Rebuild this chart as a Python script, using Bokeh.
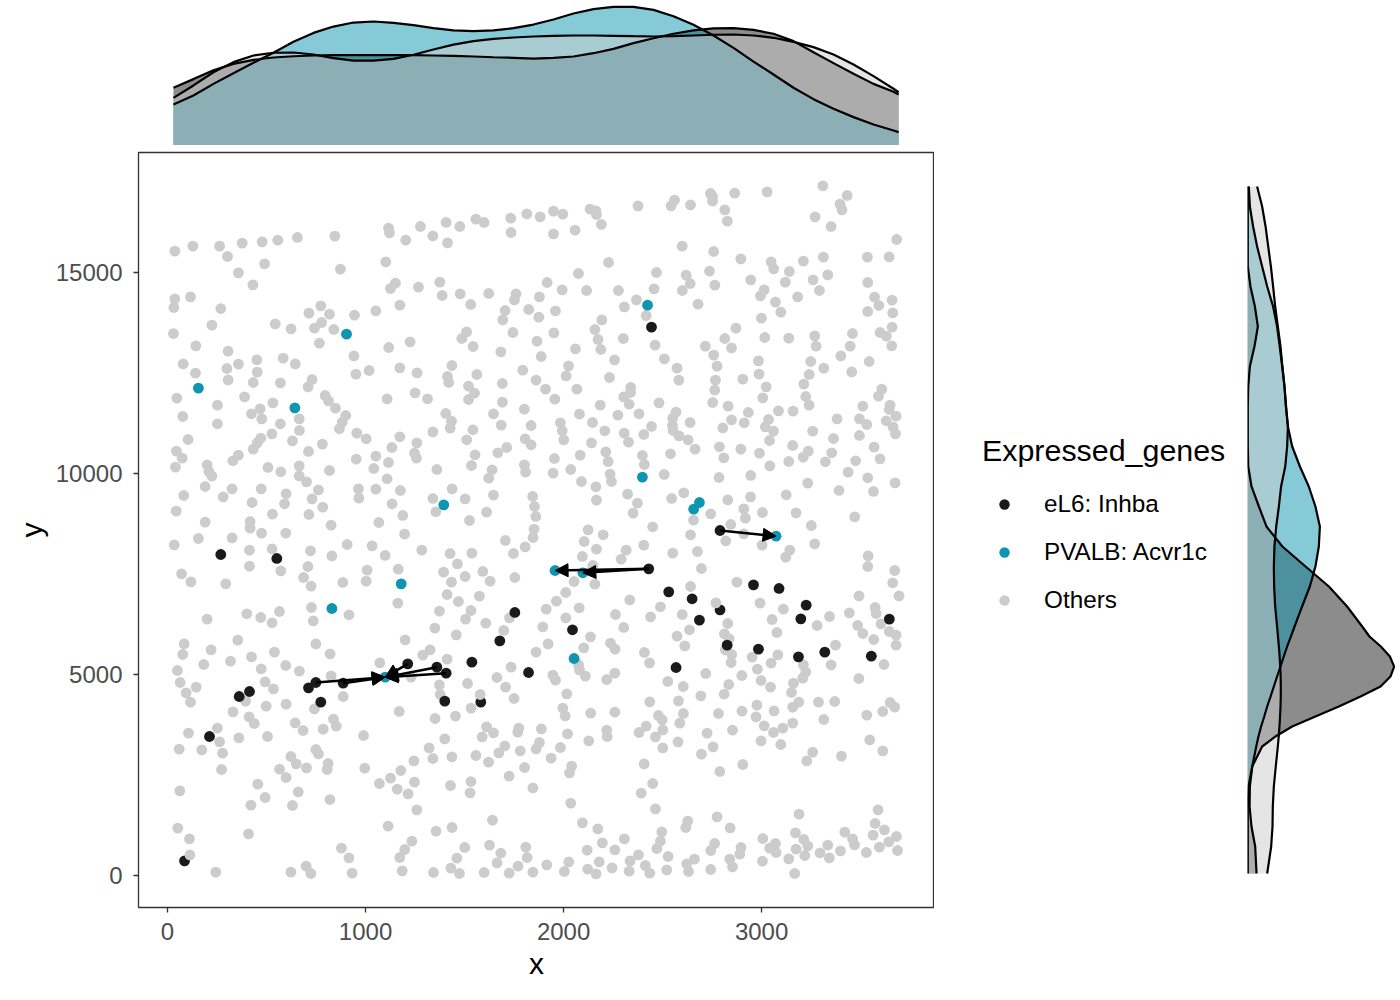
from bokeh.plotting import figure
from bokeh.layouts import column, row
from bokeh.embed import file_html
from bokeh.resources import INLINE
from bokeh.models import (Arrow, ColumnDataSource, FixedTicker, Legend, LegendItem, NormalHead, Range1d)

x_ticks = [0, 1000, 2000, 3000]
y_ticks = [0, 5000, 10000, 15000]
legend_labels = ["eL6: Inhba", "PVALB: Acvr1c", "Others"]

el6_under = [(86,365),(1582,4312),(2790,6609)]
el6_over = [(269,7985),(552,7886),(1754,6543),(1678,5838),(2444,13640),(712,4668),(749,4801),(887,4784),
(774,4312),(362,4453),(414,4577),(212,3458),(1213,5265),(1360,5182),(1407,5033),(1537,5307),(1400,4337),
(1823,5050),(2790,8582),(2430,7629),(2959,7231),(3088,7140),(2531,7057),(2649,6883),(3225,6725),(2686,6352),
(3198,6385),(3645,6377),(2045,6112),(2826,5730),(2984,5630),(3186,5439),(3319,5556),(3554,5456),(2568,5174)]
pvalb = [(904,13466),(156,12123),(643,11633),(2424,14187),(1395,9221),(1180,7256),(830,6642),(2398,9909),
(2686,9279),(2657,9113),(3073,8442),(1957,7587),(2097,7530),(2053,5398),(1099,4934)]

others = [
(37,15530),(128,15655),(263,15655),(377,15730),(478,15763),(557,15804),(656,15871),(845,15904),(303,15398),(490,15215),
(358,14992),(431,14693),(873,15083),(1116,16103),(1121,15987),(1277,16144),(1203,15804),(1340,15912),(1407,16244),(1476,16144),
(1414,15738),(1557,16327),(1599,16244),(1733,16351),(1814,16459),(1735,15995),(1102,15265),(1151,14735),(1126,14602),(1267,14635),
(1375,14759),(1387,14428),(1478,14469),(1622,14477),(1531,14204),(1760,14469),(1752,14320),(37,14345),(116,14395),(32,14129),
(269,14104),(774,14171),(714,13988),(818,13963),(944,13938),(1052,14046),(1173,14187),(1705,14055),(1824,14079),(1693,13822),
(224,13690),(544,13723),(624,13599),(742,13615),(778,13756),(840,13582),(30,13482),(1510,13524),(1486,13358),(1744,13507),
(143,13176),(767,13242),(1117,13134),(1225,13275),(1543,13159),(1683,13026),(306,13043),(451,12827),(584,12869),(941,12927),
(79,12728),(358,12720),(300,12612),(645,12728),(1173,12628),(1436,12686),(141,12496),(453,12521),(951,12471),(1018,12562),
(1260,12504),(1414,12413),(1562,12463),(1794,12570),(306,12330),(433,12264),(570,12255),(730,12338),(1420,12264),(1691,12239),
(710,12156),(1520,12172),(47,11874),(389,11907),(796,11940),(1250,12007),(1550,11998),(1109,11857),(1313,11857),(1520,11841),
(1691,11774),(252,11700),(532,11758),(813,11807),
(77,11418),(468,11609),(424,11485),(476,11360),(665,11360),(900,11443),(882,11277),(868,11112),(570,11236),(252,11236),
(848,11626),(1405,11493),(1646,11485),(1802,11601),(1434,11302),(1427,11128),(1542,11087),(1685,11203),(1836,11194),(666,11070),
(527,10987),(956,11004),(1003,10863),(1173,10913),(1340,11037),(104,10846),(471,10879),(453,10763),(433,10606),(631,10813),
(782,10730),(712,10548),(1133,10647),(1259,10763),(1511,10838),(1806,10863),(1836,10714),(1713,10647),(1668,10515),(45,10556),
(74,10382),(358,10456),(330,10316),(953,10357),(1052,10432),(1116,10274),(1247,10506),(1257,10382),(1553,10465),(40,10158),
(200,10216),(507,10150),(572,10042),(665,10191),(818,10075),(1042,10125),(1360,10100),(1535,10199),(1639,10092),(1802,10216),
(1808,10034),(209,10050),(224,9934),(665,9942),(702,9793),(1109,9868),(1622,9884),(190,9677),(326,9619),(473,9619),
(762,9594),(964,9619),(1052,9611),(1176,9578),(1437,9619),(82,9453),(281,9420),(599,9495),(730,9370),(966,9387),
(1340,9379),(1503,9370),(1646,9461),(1844,9428),(427,9279),(591,9246),(784,9163),(1134,9246),(1853,9180),(44,9063),
(530,8989),(714,8981),(1188,8956),(1355,9047),(1611,9039),(1860,8931),(190,8790),(417,8806),(826,8715),(1067,8781),
(1525,8831),(417,8640),(475,8516),(597,8516),(1197,8491),(1851,8616),(1846,8408),(156,8383),(326,8400),(34,8226),
(907,8234),(1033,8201),(1706,8334),(1806,8176),(414,8093),(528,8126),(722,8077),(1284,8093),(830,7952),(1099,7961),
(1427,8010),(1537,8019),(1747,8010),(414,7695),(709,7687),(1464,7753),(1008,7596),(1165,7621),(572,7579),(1394,7546),
(1592,7563),(71,7504),(118,7305),(687,7413),(1503,7438),(1754,7413),(294,7256),(725,7198),(885,7289),(1003,7322),
(1434,7297),(1629,7322),(1412,6990),(1469,6816),(1575,6949),(1163,6775),(727,6667),(1532,6592),(1373,6576),(565,6567),
(400,6510),(471,6418),(916,6485),(200,6377),(528,6286),(736,6335),(1505,6377),(1727,6410),(1607,6277),(1350,6153),
(1698,6095),(1458,5987),(355,5854),(84,5763),(749,5763),(1200,5863),(220,5614),(1326,5614),
(77,5497),(540,5556),(821,5514),(1289,5481),(424,5439),(318,5332),(183,5249),(50,5099),(473,5141),(597,5224),
(666,5083),(1072,5290),(1412,5381),(1735,5182),(826,4967),(1663,4925),(64,4801),(493,4817),(145,4685),(535,4643),
(1515,4776),(1707,4685),(1230,4934),(1373,4743),(94,4544),(887,4453),(1377,4502),(1579,4502),(1750,4403),(116,4312),
(394,4337),(498,4212),(599,4262),(742,4146),(1170,4080),(1533,4163),(331,4071),(412,3947),(1351,3905),(1454,3963),
(438,3781),(645,3798),(838,3889),(852,3715),(1611,3698),(252,3665),(685,3607),(786,3640),(1774,3665),(1769,3565),
(1646,3549),(106,3541),(360,3425),(505,3458),(990,3483),(1400,3400),(1589,3449),(263,3325),(59,3143),(173,3126),
(749,3134),(1321,3176),(1703,3225),(1781,3101),(278,3043),(762,3027),(623,2960),(1340,2910),(1436,2952),(1557,2985),
(1673,3051),(1244,2852),(1621,2819),(650,2778),(811,2786),(1178,2612),(566,2645),(273,2637),(702,2678),(806,2637),
(996,2670),(1803,2686),(599,2438),(1126,2421),(1725,2471),(456,2272),(1070,2288),(1247,2322),(1532,2338),(1429,2239),
(1160,2148),(1845,2181),(62,2106),(660,2081),(1215,2031),(1528,2056),(493,1940),(820,1890),(421,1749),(631,1741),
(1259,1633),(1641,1376),(52,1177),(1114,1227),(1437,1194),(1356,1103),(409,1036),(111,912),(1234,854),(1626,755),
(1501,697),(1198,647),(878,680),(1809,705),(1683,555),(113,514),(916,439),(1173,448),(1461,431),(1816,448),
(1664,315),(700,232),(1770,232),(1431,182),(244,83),(623,83),(724,50),(932,58),(1185,116),(1343,75),
(1474,50),(1599,75),(1725,58),(1845,83),
(1882,16385),(1949,16526),(1996,16451),(2134,16575),(2163,16534),(2166,16443),(2191,16194),(1949,15962),(2058,16053),(2376,16658),
(2560,16799),(2543,16658),(2641,16683),(2742,16965),(2752,16890),(2752,16774),(2864,16973),(2814,16559),(2827,16277),(3028,17007),
(3309,17156),(3432,16915),(3396,16700),(3406,16559),(3270,16385),(3351,16144),(3682,15821),(2599,15655),(2758,15522),(2227,15249),
(2895,15340),(3048,15265),(3061,15091),(3211,15282),(3312,15381),(3534,15381),(3644,15390),(2075,14975),(2469,15000),(2619,14934),
(2737,15033),(3140,15025),(3334,14942),(2945,14817),(3260,14817),(3120,14759),(3536,14751),(1917,14751),(2639,14726),(1993,14569),
(2116,14552),(2277,14552),(2457,14594),(2600,14552),(2764,14685),(3013,14569),(3292,14552),(1878,14395),(2994,14419),(3182,14395),
(2368,14320),(3070,14262),(3570,14386),(3659,14312),(2307,14146),(2679,14212),(3592,14179),(1959,14046),(3097,14013),(3536,14030),
(3662,13997),(1875,13889),(2417,13930),(2193,13822),(2999,13864),(2870,13615),(3659,13640),(2158,13582),(1951,13499),(3598,13507),
(3459,13483),(2174,13333),(1866,13292),(2302,13358),(2814,13358),(3016,13383),(3137,13366),(3268,13424),(3630,13416),(2060,13101),
(2188,13084),(2462,13192),(2716,13167),(2848,13126),(3275,13167),(3447,13167),(3657,13176),(1887,12910),(2758,12943),(2257,12827),
(2509,12852),(2984,12803),(3248,12786),(3400,12927),(3543,12786),(2025,12678),(2775,12670),(2573,12620),(3314,12620),(2013,12429),
(2232,12388),(2987,12471),(3240,12463),(3455,12529),(1861,12322),(2582,12322),(2767,12322),(2905,12346),(3213,12222),(1909,12098),
(2067,12098),(2339,12139),(2338,12015),(2763,12073),(3023,12156),(3607,12098),(1956,11849),(2304,11907),(3006,11882),(3223,11915),
(3590,11923),(2185,11700),(2331,11724),(2482,11758),(2753,11766),(3240,11700),(3649,11700),
(2831,11675),(3511,11675),(2080,11476),(2274,11452),(2381,11485),(2568,11526),(2933,11518),(3085,11559),(3159,11551),(3645,11592),
(3679,11427),(1984,11261),(2146,11269),(2551,11377),(2639,11269),(2848,11335),(2912,11261),(3035,11344),(3381,11360),(3494,11360),
(3531,11219),(3629,11311),(2444,11170),(1993,11062),(2208,11062),(2550,11194),(2553,11070),(2804,11136),(3019,11161),(3060,11054),
(3258,11054),(3664,11153),(3676,10987),(2306,11004),(2405,10971),(2583,10937),(3494,10946),(2001,10838),(2629,10838),(3040,10821),
(3363,10871),(2141,10763),(2328,10780),(2787,10664),(2895,10606),(3157,10697),(3568,10655),(2664,10606),(2213,10539),(2540,10490),
(2084,10456),(2398,10448),(2989,10506),(3236,10556),(3210,10407),(3354,10515),(1954,10374),(2225,10299),(2809,10390),(3137,10299),
(3598,10365),(2408,10224),(3041,10191),(3322,10291),(3475,10316),(2036,10100),(1947,10009),(2235,9984),(2508,9976),(2945,9951),
(3437,10034),(2785,9901),(3536,9893),(2090,9801),(2242,9801),(3233,9760),(3674,9768),(2163,9669),(3391,9578),(3565,9553),
(2607,9519),(2323,9486),(3124,9470),(2166,9337),(2546,9379),(2829,9345),(2944,9420),(2373,9262),(2351,9014),(2910,9121),
(2743,8997),(3004,9030),(3174,9022),(2918,8889),(3470,8922),(2656,8840),(2844,8732),(2450,8674),(3251,8707),(2124,8599),
(2200,8475),(2641,8475),(2910,8500),(2104,8309),(2819,8325),(2405,8218),(3002,8218),(3268,8251),(2166,8118),(2316,8093),
(2676,8060),(3142,8093),(2551,8019),(3538,7952),(2095,7936),(2291,7869),(3122,7919),(2148,7712),(3536,7687),(2696,7637),
(3672,7587),(2053,7314),(2158,7247),(2875,7297),(3662,7281),(2641,7189),(2011,7040),(3492,6957),(3694,6957),(1964,6825),
(2334,6858),(2992,6775),(2769,6783),(1912,6625),(2079,6659),(2489,6684),(3110,6625),(3573,6667),(3578,6518),(2262,6493),
(2599,6493),(3443,6534),(3343,6443),(2011,6410),(2439,6435),(3053,6368),(3603,6261),(2829,6269),(3280,6219),(3485,6219),
(1895,6186),(2304,6170),(2636,6112),(3077,6045),(3645,6070),(2812,6012),(2136,5937),(3511,6020),(2573,5954),(3679,5979),
(2836,5888),(3566,5871),(2237,5780),(1922,5763),(2612,5713),(3373,5730),(3679,5730),(2102,5664),(2260,5630),(2817,5614),
(1861,5556),(2408,5547),(2849,5498),(3082,5489),(2952,5431),(2846,5298),(2434,5290),(2075,5249),(3048,5282),(3211,5240),
(3351,5240),(3618,5249),(2080,5116),(2979,5133),(3223,5058),(2259,5033),(2718,5025),(1946,4983),(2110,4959),(2900,4975),
(3208,4909),(2218,4876),(1959,4859),(2997,4851),(3491,4900),(2526,4826),(2834,4751),(3161,4784),(2604,4701),(3045,4685),
(3151,4552),(2016,4519),(2811,4511),(2693,4469),(2435,4320),(2580,4345),(3188,4312),(3287,4312),(3369,4328),(2976,4237),
(3649,4303),(1996,4162),(3157,4187),(3672,4187),(2137,4038),(2259,4063),(2479,3980),(2605,4030),(2782,4030),(2901,4088),
(3063,4096),(3612,4080),(2008,3972),(2972,3947),(3531,3988),(2498,3872),(3314,3881),(2587,3789),(3157,3789),(3013,3723),
(2417,3715),(3107,3665),(1888,3648),(2218,3615),(2501,3623),(2853,3615),(2381,3557),(2020,3524),(2725,3541),(3060,3557),
(2220,3458),(2464,3449),(2127,3350),(2578,3325),(2997,3350),(3546,3375),(1878,3308),(3097,3259),(1984,3184),(2501,3176),
(2755,3201),(1861,3151),(3612,3101),(3258,3068),(2696,3018),(3403,2968),(1937,2919),(3228,2852),(2407,2778),(2905,2761),
(2041,2720),(2030,2554),(2789,2587),(2450,2288),(2392,2048),(2036,1799),(2464,1658),(3588,1633),(3189,1526),(2775,1459),
(2627,1352),(2095,1310),(3573,1293),(2173,1161),(2617,1194),(2841,1186),(3620,1136),(2496,1086),(3171,1061),(3420,1078),
(3563,1003),(2307,912),(3006,920),(3459,912),(3681,970),(2196,813),(2489,854),(2763,796),(3070,796),(3213,895),
(3469,763),(3642,837),(3233,738),(3334,755),(2119,630),(2259,638),(2471,672),(2743,622),(2896,697),(3041,680),
(3174,655),(3595,705),(3398,613),(3686,622),(2378,514),(2528,473),(2890,531),(3073,572),(3218,498),(3295,564),
(3529,572),(2661,406),(2839,406),(3137,415),(3342,439),(2026,340),(2180,340),(2336,365),(2622,290),(3004,357),
(1915,265),(2413,249),(2853,216),(2122,157),(2245,191),(2521,141),(2743,149),(2331,108),(2631,99),(2004,99),
(2164,41),(2435,58),(3167,50),
]

arrow_x0 = [2790, 2430, 2430, 749, 887, 1213, 1360, 1407]
arrow_y0 = [8582, 7629, 7629, 4801, 4784, 5265, 5182, 5033]
arrow_x1 = [3073, 2097, 1957, 1099, 1099, 1099, 1099, 1099]
arrow_y1 = [8442, 7530, 7587, 4934, 4934, 4934, 4934, 4934]

# marginal density along x (relative height)
dens_x = [30,131,232,333,434,535,636,737,838,939,1040,1141,1242,1343,1444,1545,1646,1747,1848,
          1949,2050,2151,2252,2353,2454,2555,2656,2757,2858,2959,3060,3161,3262,3363,3464,3565,3666,3692]
dens_x_pvalb = [27.8,34.0,42.1,49.5,56.7,63.7,71.3,77.5,81.9,84.7,85.4,84.5,82.9,80.8,79.2,78.7,79.2,80.8,83.3,
                86.8,91.0,94.0,95.6,95.6,93.5,89.1,83.1,75.7,67.1,57.6,48.6,39.4,31.5,24.8,19.0,13.9,9.7,8.6]
dens_x_others = [32.4,41.0,50.2,57.2,61.8,63.7,63.9,62.5,60.0,58.3,58.3,59.5,62.3,66.0,69.4,71.8,73.4,74.3,75.0,
                 75.5,75.7,75.7,75.5,75.2,75.0,75.2,75.7,76.2,76.4,75.7,74.1,71.3,67.6,62.5,55.6,47.5,38.7,36.3]
dens_x_el6 = [39.4,45.4,51.6,56.0,58.8,60.4,61.3,61.8,62.0,62.0,62.0,62.0,62.0,61.8,61.6,61.1,60.6,60.2,59.7,
              60.2,61.1,63.4,66.4,70.4,73.8,76.9,79.2,80.6,80.8,79.6,76.9,71.8,64.1,56.5,49.1,42.1,36.6,34.7]

# marginal density along y (relative height)
dens_y = [17140,16642,16145,15647,15150,14652,14154,13657,13159,12662,12164,11667,11169,10672,10174,9677,9179,8682,8184,7687,7189,6692,
          6194,5945,5697,5448,5199,4950,4702,4453,4204,3955,3707,3458,3209,2711,2214,1716,1219,721,50]
dens_y_el6 = [.2,.2,.2,.2,.2,2.0,5.0,7.0,4.7,1.6,.5,.2,.2,.2,.5,2.7,7.7,12.8,23.6,39.2,55.0,67.3,
              77.5,82.4,90.1,96.2,99.1,96.6,89.9,76.4,61.7,45.9,30.2,18.9,9.9,3.2,1.6,1.4,2.7,5.2,6.1]
dens_y_pvalb = [.9,1.6,3.8,6.5,9.9,13.3,17.3,20.0,21.8,23.4,25.0,25.9,27.3,30.2,35.4,41.4,45.9,48.9,48.2,45.9,42.1,36.9,
                31.8,29.3,26.8,24.5,22.3,20.0,17.8,15.6,13.3,11.3,9.2,7.4,5.9,3.2,.7,.2,.2,.2,.2]
dens_y_others = [6.5,9.9,12.2,14.0,15.8,17.3,18.7,20.5,22.3,23.6,25.0,26.1,27.3,26.8,25.5,22.7,21.2,19.4,18.2,17.8,18.0,18.7,
                 20.0,20.6,21.2,21.7,22.1,22.4,22.5,22.5,22.3,22.0,21.6,21.1,20.5,19.1,17.8,17.1,16.9,16.0,13.3]

BLACK = "#1A1A1A"
BLUE = "#0E95B2"
GREY = "#CCCCCC"
FONT = "Liberation Sans"

xr = (-146.5, 3873)
yr = (-796, 17985)


def xs(pts):
    return [a for a, _ in pts]


def ys(pts):
    return [b for _, b in pts]


main = figure(width=138 + 796, height=7 + 755 + 70, frame_width=796, frame_height=755,
              x_range=Range1d(*xr), y_range=Range1d(*yr), output_backend="svg", toolbar_location=None,
              min_border_left=138, min_border_right=0, min_border_top=7, min_border_bottom=70)
main.grid.visible = False
main.outline_line_color = "#333333"
main.outline_line_width = 1.3
main.xaxis.ticker = FixedTicker(ticks=x_ticks)
main.yaxis.ticker = FixedTicker(ticks=y_ticks)
main.xaxis.axis_label = "x"
main.yaxis.axis_label = "y"
for ax in (main.xaxis[0], main.yaxis[0]):
    ax.axis_line_color = None
    ax.major_tick_line_color = "#333333"
    ax.major_tick_line_width = 1.3
    ax.major_tick_in = 0
    ax.major_tick_out = 5
    ax.minor_tick_line_color = None
    ax.major_label_text_color = "#4D4D4D"
    ax.major_label_text_font = FONT
    ax.major_label_text_font_size = "24px"
    ax.axis_label_text_font = FONT
    ax.axis_label_text_font_size = "30px"
    ax.axis_label_text_font_style = "normal"
    ax.axis_label_text_color = "black"
main.xaxis[0].major_label_standoff = 10
main.xaxis[0].axis_label_standoff = 4
main.yaxis[0].major_label_standoff = 11
main.yaxis[0].axis_label_standoff = 5
main.yaxis[0].major_label_orientation = "horizontal"

PT = 10.8
r_under = main.scatter(xs(el6_under), ys(el6_under), size=PT, color=BLACK, line_width=0)
r_grey = main.scatter(xs(others), ys(others), size=PT, color=GREY, line_width=0)
r_blue = main.scatter(xs(pvalb), ys(pvalb), size=PT, color=BLUE, line_width=0)
r_black = main.scatter(xs(el6_over), ys(el6_over), size=PT, color=BLACK, line_width=0)

arrow_src = ColumnDataSource(dict(x0=arrow_x0, y0=arrow_y0, x1=arrow_x1, y1=arrow_y1))
main.add_layout(Arrow(end=NormalHead(size=13, fill_color="black", line_color="black", line_width=1),
                      x_start="x0", y_start="y0", x_end="x1", y_end="y1", source=arrow_src,
                      line_color="black", line_width=2.5))

key = figure(width=313, height=7 + 755 + 70, frame_width=313, frame_height=755,
             x_range=Range1d(0, 1), y_range=Range1d(0, 1), output_backend="svg", toolbar_location=None,
             min_border_left=0, min_border_right=0, min_border_top=7, min_border_bottom=70)
key.axis.visible = False
key.grid.visible = False
key.outline_line_color = None
nan = float("nan")
k_black = key.scatter([nan], [nan], size=PT, color=BLACK, line_width=0)
k_blue = key.scatter([nan], [nan], size=PT, color=BLUE, line_width=0)
k_grey = key.scatter([nan], [nan], size=PT, color=GREY, line_width=0)
legend = Legend(items=[LegendItem(label=legend_labels[0], renderers=[k_black]),
                       LegendItem(label=legend_labels[1], renderers=[k_blue]),
                       LegendItem(label=legend_labels[2], renderers=[k_grey])],
                title="Expressed_genes", location=(48, 293), orientation="vertical",
                background_fill_alpha=0, border_line_color=None, margin=0, padding=0,
                glyph_width=44, glyph_height=26, label_height=26, spacing=20, label_standoff=18,
                title_text_font=FONT, title_text_font_size="30.4px", title_text_font_style="normal",
                title_text_color="black", title_standoff=22,
                label_text_font=FONT, label_text_font_size="24.3px", label_text_color="black")
key.add_layout(legend, "center")

top = figure(width=138 + 796, height=145, frame_width=796, frame_height=145,
             x_range=main.x_range, y_range=Range1d(-0.7, 100), output_backend="svg", toolbar_location=None,
             min_border_left=138, min_border_right=0, min_border_top=0, min_border_bottom=0)
top.axis.visible = False
top.grid.visible = False
top.outline_line_color = None
x_series = ((dens_x_el6, BLACK), (dens_x_pvalb, BLUE), (dens_x_others, GREY))
for vals, col in x_series:
    top.varea(x=dens_x, y1=[-0.7] * len(dens_x), y2=vals, fill_color=col, fill_alpha=0.5)
for vals, col in x_series:
    top.line(dens_x, vals, line_color="black", line_width=2.2)

right = figure(width=148, height=7 + 755 + 70, frame_width=148, frame_height=755,
               x_range=Range1d(0, 100), y_range=main.y_range, output_backend="svg", toolbar_location=None,
               min_border_left=0, min_border_right=0, min_border_top=7, min_border_bottom=70)
right.axis.visible = False
right.grid.visible = False
right.outline_line_color = None
y_series = ((dens_y_el6, BLACK), (dens_y_pvalb, BLUE), (dens_y_others, GREY))
for vals, col in y_series:
    right.harea(y=dens_y, x1=[0] * len(dens_y), x2=vals, fill_color=col, fill_alpha=0.5)
for vals, col in y_series:
    right.line(vals, dens_y, line_color="black", line_width=2.2)

p = column(top, row(main, key, right, spacing=0), spacing=0)
open("out.html", "w").write(file_html(p, INLINE))
